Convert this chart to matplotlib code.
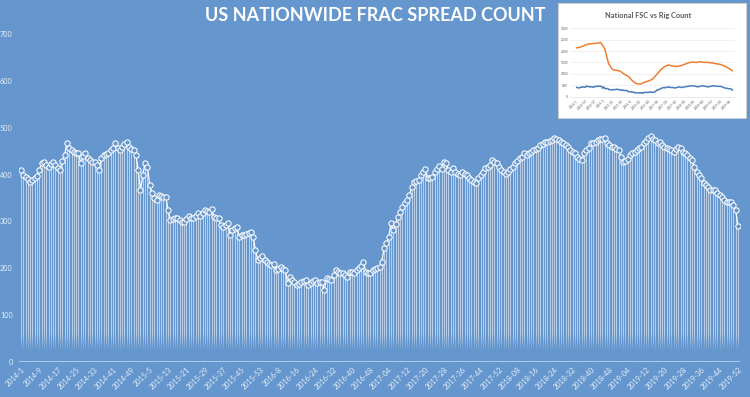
import numpy as np
import matplotlib
matplotlib.use("Agg")
import matplotlib.pyplot as plt
from matplotlib.patches import Rectangle

# weekly US frac spread count, 2014-1 .. 2019-52 (2015 has 53 weeks)
frac_2014 = [410, 399, 395, 390, 385, 388, 392, 397, 410, 424, 427, 420, 417, 422, 427, 420,
             415, 410, 430, 442, 468, 456, 452, 449, 447, 445, 424, 440, 445, 435, 431, 427,
             427, 420, 410, 435, 442, 443, 445, 452, 456, 467, 456, 452, 458, 465, 470, 459,
             455, 452, 442, 410]
frac_2015 = [367, 400, 424, 417, 378, 360, 350, 346, 356, 354, 353, 353, 324, 303, 305, 307,
             307, 302, 299, 299, 305, 311, 307, 307, 312, 317, 311, 318, 324, 322, 321, 326,
             310, 308, 307, 292, 289, 293, 296, 271, 282, 286, 289, 267, 270, 271, 274, 276,
             278, 267, 239, 218, 222]
frac_2016 = [226, 218, 214, 210, 207, 210, 196, 199, 203, 198, 196, 168, 182, 175, 171, 164,
             166, 171, 172, 175, 164, 168, 172, 175, 168, 170, 171, 154, 179, 177, 175, 185,
             196, 193, 191, 189, 185, 182, 193, 192, 191, 196, 200, 205, 214, 193, 189, 191,
             196, 198, 200, 203]
frac_2017 = [214, 243, 253, 267, 296, 282, 295, 310, 321, 330, 339, 346, 356, 373, 385, 386,
             388, 399, 405, 411, 392, 393, 395, 406, 412, 418, 411, 427, 424, 410, 406, 413,
             406, 402, 399, 406, 402, 399, 392, 388, 385, 381, 392, 399, 406, 413, 416, 420,
             431, 427, 424, 417]
frac_2018 = [410, 406, 402, 406, 412, 417, 424, 430, 435, 438, 445, 442, 446, 449, 452, 454,
             456, 463, 466, 470, 470, 472, 474, 479, 476, 474, 470, 467, 463, 459, 452, 448,
             445, 438, 434, 431, 445, 452, 456, 467, 468, 470, 474, 475, 476, 477, 467, 463,
             459, 459, 455, 452]
frac_2019 = [438, 427, 430, 434, 442, 446, 449, 452, 456, 459, 467, 472, 477, 482, 476, 474,
             467, 470, 463, 459, 456, 454, 452, 449, 455, 459, 456, 449, 446, 442, 435, 431,
             417, 406, 399, 392, 381, 378, 374, 367, 367, 367, 360, 356, 353, 346, 342, 342,
             342, 335, 324, 290]

tick_labels = ["2014-1", "2014-9", "2014-17", "2014-25", "2014-33", "2014-41", "2014-49",
               "2015-5", "2015-13", "2015-21", "2015-29", "2015-37", "2015-45", "2015-53",
               "2016-8", "2016-16", "2016-24", "2016-32", "2016-40", "2016-48",
               "2017-04", "2017-12", "2017-20", "2017-28", "2017-36", "2017-44", "2017-52",
               "2018-08", "2018-16", "2018-24", "2018-32", "2018-40", "2018-48",
               "2019-04", "2019-12", "2019-20", "2019-28", "2019-36", "2019-44", "2019-52"]

# inset: rig count sampled every 8 weeks
rig_count = [2143, 2180, 2250, 2314, 2329, 2343, 2380, 2120, 1450, 1180, 1160, 1110, 980, 886,
             690, 570, 555, 635, 686, 770, 960, 1170, 1320, 1386, 1350, 1325, 1350, 1420, 1486,
             1520, 1500, 1535, 1505, 1500, 1480, 1445, 1415, 1350, 1257, 1143]

frac = np.array(frac_2014 + frac_2015 + frac_2016 + frac_2017 + frac_2018 + frac_2019)
weeks = np.arange(len(frac))
tick_pos = np.arange(0, len(frac), 8)

week_names = []
for year, n in [(2014, 52), (2015, 53), (2016, 52), (2017, 52), (2018, 52), (2019, 52)]:
    for w in range(1, n + 1):
        week_names.append(f"{year}-{w}" if year < 2017 else f"{year}-{w:02d}")

bg = "#6596CD"
txt = "#E8F0FA"
plt.rcParams["font.family"] = ["Lato", "DejaVu Sans"]

fig = plt.figure(figsize=(7.5, 3.97), dpi=100, facecolor=bg)
ax = fig.add_axes([19 / 750, 35 / 397, 721 / 750, 328 / 397], facecolor=bg)

ax.vlines(weeks, 0, frac, color="white", lw=0.7, alpha=0.55, zorder=1)

# fade the drop lines out near the bottom
n = 200
vals = np.linspace(0, 70, n)
alpha = np.clip(1 - (vals - 25) / 35, 0, 1)
rgba = np.zeros((n, 1, 4))
rgba[:, 0, :3] = matplotlib.colors.to_rgb(bg)
rgba[:, 0, 3] = alpha
x0, x1 = -0.87, 312.87
ax.imshow(rgba, extent=[x0, x1, 0, 70], origin="lower", aspect="auto", zorder=2)

ax.plot(weeks, frac, color="white", lw=0.9, marker="o", ms=3.8, mfc=bg, mec="white",
        mew=0.75, zorder=3)
ax.axhline(0, color="#A9C9EC", lw=2.2, zorder=4)

ax.set_xlim(x0, x1)
ax.set_ylim(0, 700)
ax.set_yticks(np.arange(0, 701, 100))
ax.set_xticks(tick_pos)
ax.set_xticklabels(tick_labels, rotation=45, ha="right", va="top", rotation_mode="anchor")
ax.tick_params(axis="both", length=0, labelsize=5.2, labelcolor=txt)
ax.tick_params(axis="y", pad=4.5)
ax.tick_params(axis="x", pad=3)
for s in ax.spines.values():
    s.set_visible(False)

fig.text(0.5, 0.962, "US NATIONWIDE FRAC SPREAD COUNT", color="white", fontsize=13,
         fontweight="bold", ha="center", va="center")

# inset chart
fig.add_artist(Rectangle((558 / 750, 279 / 397), 188 / 750, 115 / 397, transform=fig.transFigure,
                         facecolor="white", edgecolor="#D0D0D0", lw=0.6, zorder=5))
ins = fig.add_axes([570 / 750, 300.3 / 397, 165 / 750, 68.4 / 397], facecolor="none", zorder=6)
ins.plot(tick_pos, rig_count, color="#ED7D31", lw=1.1)
ins.plot(weeks, frac, color="#4A7EBB", lw=1.1)
ins.set_xlim(-13.4, 317.4)
ins.set_ylim(0, 3000)
ins.set_yticks(np.arange(0, 3001, 500))
ins.set_xticks(np.arange(0, len(frac), 18))
ins.set_xticklabels(week_names[::18], rotation=45, ha="right", va="top", rotation_mode="anchor")
ins.tick_params(axis="both", length=0, labelsize=2.3, labelcolor="#595959", pad=1.5)
ins.grid(axis="y", color="#E6E6E6", lw=0.4)
ins.set_axisbelow(True)
for s in ins.spines.values():
    s.set_visible(False)
ins.spines["bottom"].set_visible(True)
ins.spines["bottom"].set_color("#D9D9D9")
ins.spines["bottom"].set_linewidth(0.4)
fig.text(648 / 750, 1 - 15.7 / 397, "National FSC vs Rig Count", color="#595959", fontsize=5.3,
         fontweight="bold", ha="center", va="center", zorder=7)

fig.savefig("out.png", dpi=100, facecolor=bg)
